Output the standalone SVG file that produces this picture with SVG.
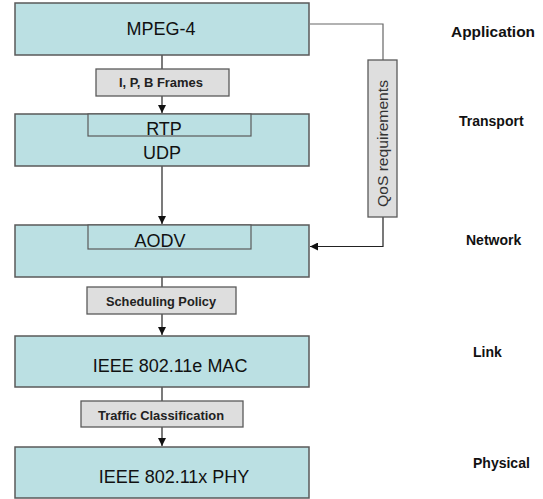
<svg xmlns="http://www.w3.org/2000/svg" width="543" height="499" viewBox="0 0 543 499">
<defs>
<marker id="arr" viewBox="0 0 10 10" refX="10" refY="5" markerWidth="8" markerHeight="8" markerUnits="userSpaceOnUse" orient="auto">
<path d="M0,0 L10,5 L0,10 z" fill="#111"/>
</marker>
<style>
.box{fill:#BBE0E3;stroke:#5a5a5a;stroke-width:1.5}
.inner{fill:#BBE0E3;stroke:#5a5a5a;stroke-width:1.2}
.lbl{fill:#DEDEDE;stroke:#5a5a5a;stroke-width:1.3}
.main{font-family:"Liberation Sans",Arial,sans-serif;font-size:18px;fill:#111;text-anchor:middle}
.small{font-family:"Liberation Sans",Arial,sans-serif;font-size:12px;font-weight:bold;fill:#222;text-anchor:middle}
.layer{font-family:"Liberation Sans",Arial,sans-serif;font-size:14px;font-weight:bold;fill:#111}
.conn{stroke:#222;stroke-width:1.2;fill:none}
.gconn{stroke:#666;stroke-width:1.2;fill:none}
</style>
</defs>
<rect width="543" height="499" fill="#fff"/>
<g id="connectors">
<line class="conn" x1="162" y1="55" x2="162" y2="69"/>
<line class="conn" x1="162" y1="96" x2="162" y2="113" marker-end="url(#arr)"/>
<line class="conn" x1="162" y1="166" x2="162" y2="224" marker-end="url(#arr)"/>
<line class="conn" x1="162" y1="277" x2="162" y2="287"/>
<line class="conn" x1="162" y1="314" x2="162" y2="335" marker-end="url(#arr)"/>
<line class="conn" x1="162" y1="387" x2="162" y2="401"/>
<line class="conn" x1="162" y1="427" x2="162" y2="446" marker-end="url(#arr)"/>
<polyline class="gconn" points="310,24 383,24 383,60"/>
<polyline class="conn" points="383,217 383,246.5 310,246.5" marker-end="url(#arr)"/>
</g>
<g id="mpeg4">
<rect class="box" x="15" y="3" width="294" height="52"/>
<text class="main" x="161" y="35">MPEG-4</text>
</g>
<g id="frames">
<rect class="lbl" x="96" y="69" width="133" height="27"/>
<text class="small" x="161" y="87" textLength="84" lengthAdjust="spacingAndGlyphs">I, P, B Frames</text>
</g>
<g id="rtp-udp">
<rect class="box" x="15" y="114" width="294" height="52"/>
<rect class="inner" x="88" y="114" width="163" height="22"/>
<text class="main" x="164" y="135">RTP</text>
<text class="main" x="162" y="159">UDP</text>
</g>
<g id="aodv">
<rect class="box" x="15" y="225" width="294" height="52"/>
<rect class="inner" x="88" y="225" width="163" height="24"/>
<text class="main" x="160" y="247">AODV</text>
</g>
<g id="scheduling">
<rect class="lbl" x="87" y="287" width="149" height="27"/>
<text class="small" x="161" y="306" textLength="110" lengthAdjust="spacingAndGlyphs">Scheduling Policy</text>
</g>
<g id="mac">
<rect class="box" x="15" y="336" width="294" height="51"/>
<text class="main" x="170" y="372">IEEE 802.11e MAC</text>
</g>
<g id="traffic">
<rect class="lbl" x="81" y="401" width="162" height="26"/>
<text class="small" x="161" y="420" textLength="126" lengthAdjust="spacingAndGlyphs">Traffic Classification</text>
</g>
<g id="phy">
<rect class="box" x="15" y="447" width="294" height="51"/>
<text class="main" x="174" y="483">IEEE 802.11x PHY</text>
</g>
<g id="qos">
<rect class="lbl" x="368" y="60" width="29" height="157"/>
<text font-family="'Liberation Sans',Arial,sans-serif" font-size="15" fill="#333" text-anchor="middle" transform="translate(388,143.5) rotate(-90)" textLength="127" lengthAdjust="spacingAndGlyphs">QoS requirements</text>
</g>
<g id="layers">
<text class="layer" x="451" y="37" textLength="84" lengthAdjust="spacingAndGlyphs">Application</text>
<text class="layer" x="459" y="126">Transport</text>
<text class="layer" x="466" y="245">Network</text>
<text class="layer" x="473" y="357">Link</text>
<text class="layer" x="473" y="468">Physical</text>
</g>
</svg>
